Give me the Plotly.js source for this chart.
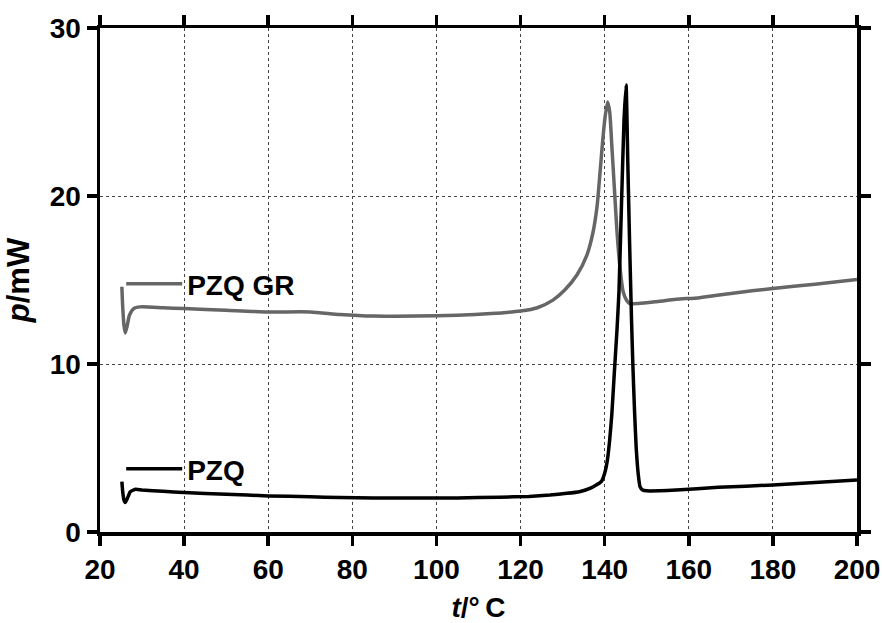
<!DOCTYPE html>
<html>
<head>
<meta charset="utf-8">
<script src="https://cdn.plot.ly/plotly-3.0.1.min.js"></script>
<style>html,body{margin:0;padding:0;background:#fff;}#chart{width:882px;height:623px;}</style>
</head>
<body>
<div id="chart"></div>
<script>
// PZQ (black)
const pzqT = [25.2, 25.4, 25.7, 26.0, 26.5, 27.2, 28.5, 30, 35, 40, 50, 60, 70, 77, 85, 95, 105, 115, 122, 127, 131, 134, 136.5, 138, 139.2, 140.0, 140.6, 141.2, 141.7, 142.3, 142.9, 143.4, 144.0, 144.6, 145.1, 145.5, 145.9, 146.4, 146.7, 147.1, 147.5, 148.0, 148.4, 149, 150, 157, 167, 180, 190, 200];
const pzqP = [3.0, 2.4, 1.9, 1.75, 2.0, 2.4, 2.55, 2.5, 2.42, 2.35, 2.25, 2.15, 2.1, 2.05, 2.03, 2.02, 2.03, 2.07, 2.12, 2.2, 2.3, 2.4, 2.6, 2.8, 3.0, 3.5, 4.2, 5.5, 7.0, 9.5, 11.9, 14.3, 19.5, 24.5, 26.6, 22.0, 17.5, 12.5, 10.0, 7.2, 5.0, 3.4, 2.7, 2.5, 2.45, 2.5, 2.66, 2.8, 2.95, 3.09];

// PZQ GR (grey)
const grT = [25.2, 25.4, 25.7, 26.0, 26.4, 27, 28, 29.6, 35, 40, 50, 60, 70, 77, 85, 95, 105, 113, 120, 124, 127.7, 130.5, 133.4, 135.8, 137.2, 138.2, 138.9, 139.5, 140.1, 140.7, 141.2, 141.7, 142.3, 142.9, 143.7, 144.4, 145.2, 146, 148, 152, 157, 162.6, 170, 180, 190, 200];
const grP = [14.6, 13.4, 12.3, 11.85, 12.2, 12.9, 13.3, 13.4, 13.35, 13.3, 13.2, 13.1, 13.1, 12.95, 12.85, 12.85, 12.9, 13.0, 13.15, 13.35, 13.8, 14.4, 15.3, 16.5, 17.8, 19.4, 21.4, 23.2, 24.7, 25.6, 25.0, 23.0, 20.5, 18.0, 15.6, 14.3, 13.8, 13.6, 13.6, 13.7, 13.85, 13.95, 14.2, 14.5, 14.75, 15.03];

const xTicks = [20, 40, 60, 80, 100, 120, 140, 160, 180, 200];
const yTicks = [0, 10, 20, 30];
const seriesNames = ['PZQ GR', 'PZQ'];

const FONT = 'Liberation Sans, Arial, sans-serif';

const traces = [
  {x: grT, y: grP, type: 'scatter', mode: 'lines', name: '<b>' + seriesNames[0] + '</b>',
   line: {color: '#666666', width: 3.5, shape: 'spline', smoothing: 0.6}, legend: 'legend'},
  {x: pzqT, y: pzqP, type: 'scatter', mode: 'lines', name: '<b>' + seriesNames[1] + '</b>',
   line: {color: '#000000', width: 3.5, shape: 'spline', smoothing: 0.4}, legend: 'legend2'}
];

const axisCommon = {
  showline: true, linecolor: '#000', linewidth: 3.5, mirror: 'ticks',
  ticks: 'outside', ticklen: 10, tickwidth: 3.5, tickcolor: '#000',
  showgrid: true, gridcolor: '#444', gridwidth: 1, griddash: 'dot',
  zeroline: false,
  tickfont: {family: FONT, size: 28, color: '#000', weight: 700}
};

const legendCommon = {
  bgcolor: 'rgba(0,0,0,0)', borderwidth: 0, itemwidth: 56,
  font: {family: FONT, size: 28, color: '#000'},
  xanchor: 'left', yanchor: 'middle', tracegroupgap: 0
};

const layout = {
  width: 882, height: 623,
  margin: {l: 100, r: 25, t: 28, b: 91},
  paper_bgcolor: '#fff', plot_bgcolor: '#fff',
  showlegend: true,
  xaxis: Object.assign({}, axisCommon, {
    range: [20, 200], tickvals: xTicks, ticktext: xTicks.map(String),
    title: {text: '<b><i>t</i>/°\u2009C</b>', font: {family: FONT, size: 28, color: '#000'}, standoff: 26}
  }),
  yaxis: Object.assign({}, axisCommon, {
    range: [0, 30], tickvals: yTicks, ticktext: yTicks.map(String),
    title: {text: '<b><i>p</i>/mW</b>', font: {family: FONT, size: 31, color: '#000'}, standoff: 12}
  }),
  legend: Object.assign({}, legendCommon, {x: 0.028, y: 0.492}),
  legend2: Object.assign({}, legendCommon, {x: 0.028, y: 0.125})
};

Plotly.newPlot('chart', traces, layout, {displayModeBar: false, staticPlot: true});
</script>
</body>
</html>
